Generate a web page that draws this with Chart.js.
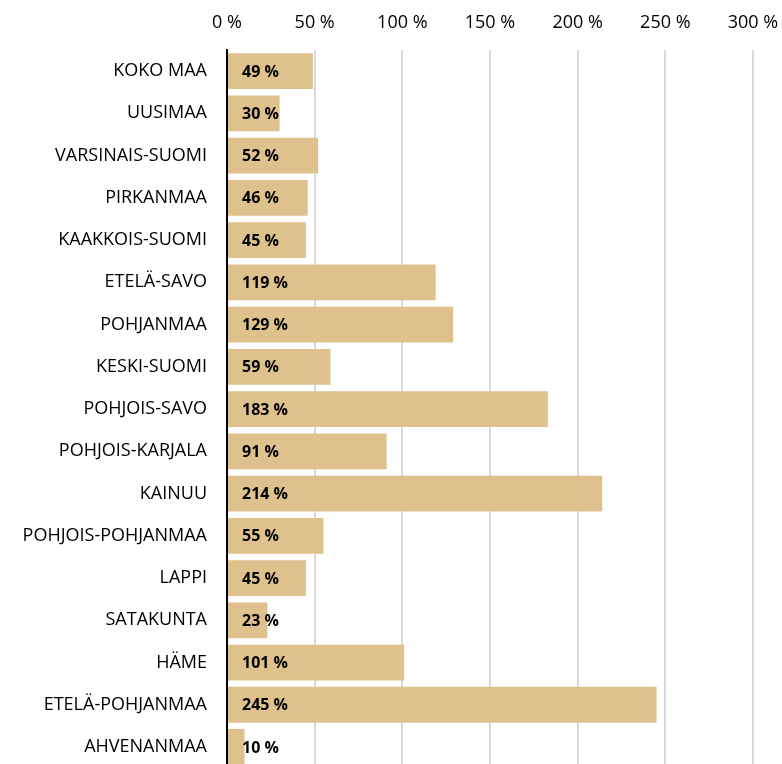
<!DOCTYPE html>
<html>
<head>
<meta charset="utf-8">
<script src="https://cdn.jsdelivr.net/npm/chart.js@4"></script>
<style>
  html, body { margin: 0; padding: 0; background: #fff; overflow: hidden; }
  #wrap { width: 782px; height: 799px; }
</style>
</head>
<body>
<div id="wrap"><canvas id="barChart"></canvas></div>
<script>
var regions = ['KOKO MAA', 'UUSIMAA', 'VARSINAIS-SUOMI', 'PIRKANMAA', 'KAAKKOIS-SUOMI',
    'ETELÄ-SAVO', 'POHJANMAA', 'KESKI-SUOMI', 'POHJOIS-SAVO', 'POHJOIS-KARJALA',
    'KAINUU', 'POHJOIS-POHJANMAA', 'LAPPI', 'SATAKUNTA', 'HÄME', 'ETELÄ-POHJANMAA', 'AHVENANMAA'];
var values = [49, 30, 52, 46, 45, 119, 129, 59, 183, 91, 214, 55, 45, 23, 101, 245, 10];

var font = "'Open Sans', 'Noto Sans', sans-serif";

// bold value label at the start of each bar
var valueLabels = {
    id: 'valueLabels',
    afterDatasetsDraw: function(chart) {
        var ctx = chart.ctx;
        var x0 = chart.scales.x.getPixelForValue(0);
        ctx.save();
        ctx.font = 'bold 16px ' + font;
        ctx.fillStyle = '#000';
        ctx.textBaseline = 'middle';
        chart.getDatasetMeta(0).data.forEach(function(bar, i) {
            ctx.fillText(values[i] + ' %', x0 + 15, bar.y + 1);
        });
        ctx.restore();
    }
};

var ctx = document.getElementById('barChart').getContext('2d');
var chart = new Chart(ctx, {
    type: 'bar',
    data: {
        labels: regions,
        datasets: [{
            data: values,
            backgroundColor: '#DEC18C',
            barPercentage: 0.85,
            categoryPercentage: 1
        }]
    },
    options: {
        indexAxis: 'y',
        responsive: true,
        maintainAspectRatio: false,
        animation: false,
        layout: { padding: 0 },
        plugins: {
            legend: { display: false },
            tooltip: { enabled: false }
        },
        scales: {
            x: {
                position: 'top',
                min: 0,
                max: 300,
                ticks: {
                    stepSize: 50,
                    padding: 16,
                    color: '#000',
                    font: { family: font, size: 18 },
                    callback: function(v) { return v + ' %'; }
                },
                grid: { color: '#D9D9D9', lineWidth: 2, drawTicks: false },
                border: { display: false },
                afterFit: function(s) {
                    s.height = 50;
                    s.paddingLeft = 0;
                    s.paddingRight = 29;
                }
            },
            y: {
                ticks: {
                    padding: 20,
                    color: '#000',
                    font: { family: font, size: 18 }
                },
                grid: { display: false, drawTicks: false },
                border: { display: true, color: '#000', width: 2 },
                afterFit: function(s) { s.width = 227; }
            }
        }
    },
    plugins: [valueLabels]
});
</script>
</body>
</html>
